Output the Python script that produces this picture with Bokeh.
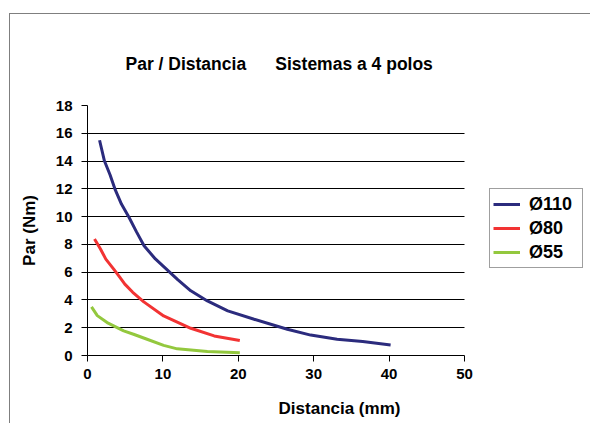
from bokeh.plotting import figure
from bokeh.models import Legend, LegendItem, Title, FixedTicker, BoxAnnotation
from bokeh.embed import file_html
from bokeh.resources import INLINE

# ---- data ----
x110 = [1.6, 2.25, 3.0, 3.7, 4.5, 5.5, 6.5, 7.5, 9.0, 10.0, 11.0, 12.0, 13.7, 15.9, 18.6, 22.1, 26.5, 29.6, 33.1, 36.5, 40.2]
y110 = [15.5, 14.0, 13.0, 11.9, 10.9, 9.95, 8.9, 7.9, 6.95, 6.45, 5.95, 5.45, 4.66, 3.93, 3.21, 2.61, 1.89, 1.47, 1.17, 1.0, 0.76]

x80 = [0.93, 1.72, 2.43, 3.5, 4.2, 4.95, 6.0, 7.47, 10.1, 13.7, 16.8, 20.2]
y80 = [8.39, 7.67, 6.94, 6.2, 5.7, 5.14, 4.55, 3.86, 2.85, 1.96, 1.41, 1.08]

x55 = [0.53, 1.3, 2.6, 4.8, 6.1, 7.9, 10.1, 11.9, 15.9, 20.2]
y55 = [3.5, 2.87, 2.37, 1.77, 1.53, 1.17, 0.73, 0.48, 0.29, 0.19]

labels = ["Ø110", "Ø80", "Ø55"]
colors = ["#2b2b7d", "#f23333", "#93c83e"]
x_ticks = [0, 10, 20, 30, 40, 50]
y_ticks = [0, 2, 4, 6, 8, 10, 12, 14, 16, 18]
x_max = 50
y_max = 18
title_left = "Par / Distancia"
title_right = "Sistemas a 4 polos"
x_title = "Distancia (mm)"
y_title = "Par (Nm)"

FONT = "Liberation Sans"

# layout (pixels)
W, H = 581, 410
LEFT, TOP, BOTTOM = 77, 91, 69
AXIS_W = 377                      # pixel length of the 0..50 axis
FRAME_W = W - LEFT
x_end = x_max * FRAME_W / AXIS_W  # frame extends right so the legend can sit beside the axis

p = figure(width=W, height=H, output_backend="svg", toolbar_location=None,
           x_range=(0, x_end), y_range=(0, y_max),
           min_border_left=LEFT, min_border_right=0, min_border_top=TOP, min_border_bottom=BOTTOM,
           background_fill_color="white", border_fill_color="white",
           styles={"border-left": "1px solid #7f7f7f", "border-top": "1px solid #7f7f7f",
                   "margin-top": "13px", "margin-left": "9px"})
p.outline_line_color = None

p.title = Title(text=title_left + "\u00a0" * 6 + title_right, align="left", offset=38,
                standoff=64, text_font=FONT, text_font_style="bold",
                text_font_size="17.5px", text_color="black")

p.xgrid.visible = False
p.ygrid.grid_line_color = "black"
p.ygrid.grid_line_width = 1

p.xaxis.ticker = FixedTicker(ticks=x_ticks)
p.yaxis.ticker = FixedTicker(ticks=y_ticks)
p.xaxis.bounds = (0, x_max)
for ax in (p.xaxis, p.yaxis):
    ax.axis_line_color = "black"
    ax.major_tick_line_color = "black"
    ax.minor_tick_line_color = None
    ax.major_tick_out = 6
    ax.major_tick_in = 0
    ax.major_label_text_font = FONT
    ax.major_label_text_font_style = "bold"
    ax.major_label_text_font_size = "15px"
    ax.major_label_text_color = "black"
    ax.axis_label_text_font = FONT
    ax.axis_label_text_font_style = "bold"
    ax.axis_label_text_font_size = "17px"
    ax.axis_label_text_color = "black"

p.xaxis.axis_label = x_title
p.yaxis.axis_label = y_title
p.xaxis.major_label_standoff = 7
p.yaxis.major_label_standoff = 9
p.xaxis.axis_label_standoff = 17
p.yaxis.axis_label_standoff = 14

# white mask over the area right of the x axis end (grid lines stop at x = 50)
p.add_layout(BoxAnnotation(left=x_max, fill_color="white", fill_alpha=1.0,
                           line_color=None, level="underlay"))

r1 = p.line(x110, y110, line_color=colors[0], line_width=3)
r2 = p.line(x80, y80, line_color=colors[1], line_width=3)
r3 = p.line(x55, y55, line_color=colors[2], line_width=3)

legend = Legend(items=[LegendItem(label=labels[0], renderers=[r1]),
                       LegendItem(label=labels[1], renderers=[r2]),
                       LegendItem(label=labels[2], renderers=[r3])],
                location=(402, 87), margin=0, padding=3, spacing=0,
                label_height=24, glyph_height=24, glyph_width=27, label_standoff=9,
                label_width=50,
                label_text_font=FONT, label_text_font_style="bold",
                label_text_font_size="18px", label_text_color="black",
                label_text_line_height=0.9,
                border_line_color="#404040", border_line_width=1,
                background_fill_color="white", background_fill_alpha=1.0)
p.add_layout(legend)

open("out.html", "w").write(file_html(p, INLINE))
